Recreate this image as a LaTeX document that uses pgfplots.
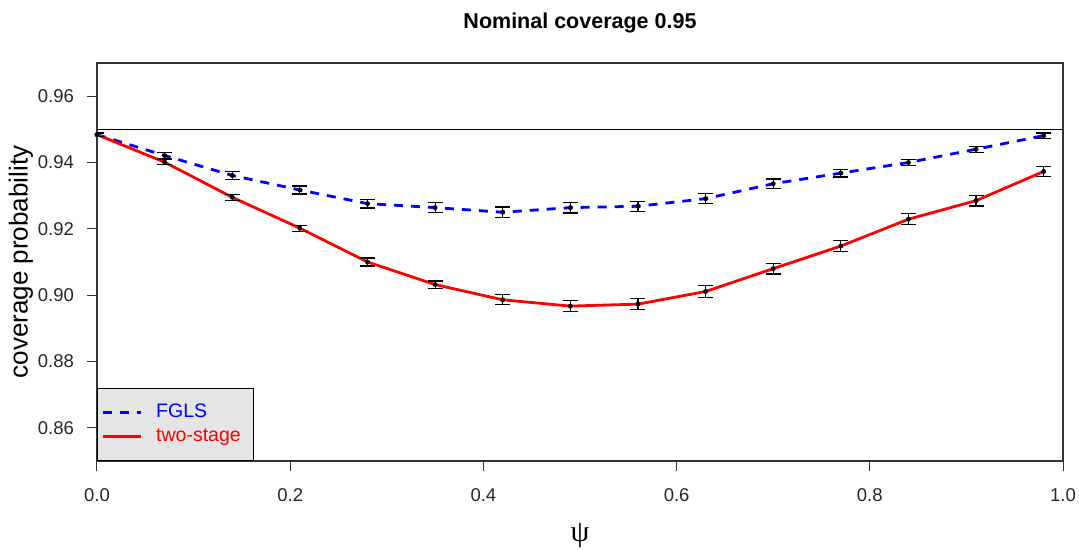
\documentclass[border=0pt]{standalone}
\usepackage{pgfplots}
\pgfplotsset{compat=1.18}
\usepackage{pgfplotstable}
\usepackage{fontspec}
\setmainfont{Liberation Sans}
\newfontfamily\symfont{Liberation Serif}
\definecolor{legendgray}{RGB}{229,229,229}
\definecolor{rblue}{RGB}{0,0,255}
\definecolor{rred}{RGB}{255,0,0}

\pgfplotstableread{
x y e
0.00 0.9484 0.0006
0.07 0.9421 0.0009
0.14 0.9361 0.0013
0.21 0.9317 0.0012
0.28 0.9276 0.0013
0.35 0.9264 0.0015
0.42 0.9250 0.0016
0.49 0.9264 0.0016
0.56 0.9268 0.0015
0.63 0.9291 0.0015
0.70 0.9336 0.0014
0.77 0.9368 0.0012
0.84 0.9400 0.0009
0.91 0.9440 0.0009
0.98 0.9481 0.0008
}\fgls

\pgfplotstableread{
x y e
0.00 0.9484 0.0005
0.07 0.9401 0.0008
0.14 0.9295 0.0009
0.21 0.9202 0.0009
0.28 0.9100 0.0012
0.35 0.9032 0.0011
0.42 0.8986 0.0015
0.49 0.8967 0.0016
0.56 0.8973 0.0016
0.63 0.9011 0.0017
0.70 0.9080 0.0016
0.77 0.9148 0.0017
0.84 0.9229 0.0017
0.91 0.9285 0.0016
0.98 0.9373 0.0016
}\twostage

\begin{document}
\begin{tikzpicture}
\useasboundingbox (-48.5pt,-44.5pt) rectangle (491pt,230.5pt);
\begin{axis}[
  at={(0pt,0pt)}, anchor=south west,
  scale only axis, width=483pt, height=199pt,
  xmin=0, xmax=1, ymin=0.85, ymax=0.97,
  xtick={0,0.2,0.4,0.6,0.8,1.0},
  xticklabels={0.0,0.2,0.4,0.6,0.8,1.0},
  ytick={0.86,0.88,0.90,0.92,0.94,0.96},
  yticklabels={0.86,0.88,0.90,0.92,0.94,0.96},
  xtick pos=left, ytick pos=left,
  tick align=outside, major tick length=5pt,
  tick style={black!80, line width=0.5pt},
  axis line style={black!80, line width=0.6pt},
  ticklabel style={font=\fontsize{9.25}{11}\selectfont, text=black!85},
  yticklabel style={xshift=-3pt},
  xticklabel style={yshift=-5.5pt},
  xlabel={\symfont ψ},
  xlabel style={at={(axis description cs:0.5,0)}, anchor=center, yshift=-37.5pt, font=\fontsize{15}{17}\selectfont},
  ylabel={coverage probability},
  ylabel style={at={(axis description cs:-0.0787,0.5)}, anchor=center, font=\fontsize{13}{15}\selectfont},
  title={Nominal coverage 0.95},
  title style={at={(axis description cs:0.5,1)}, anchor=base, yshift=11pt, font=\fontsize{10.75}{13}\selectfont\bfseries},
  legend style={at={(0,0)}, anchor=south west, draw=black, fill=legendgray,
    font=\fontsize{9.75}{11}\selectfont, inner xsep=2pt, inner ysep=6pt, row sep=0pt, column sep=5pt},
  legend cell align=left,
  legend image code/.code={\draw[#1] (0pt,0pt) -- (19pt,0pt);},
]
\addplot[black, line width=0.5pt, forget plot] coordinates {(0,0.95) (1,0.95)};
\addplot[rblue, line width=1.4pt, dash pattern=on 4.5pt off 4pt] table[x=x,y=y] {\fgls};
\addlegendentry{\textcolor{rblue}{FGLS}}
\addplot[rred, line width=1.4pt] table[x=x,y=y] {\twostage};
\addlegendentry{\textcolor{rred}{two-stage}\hspace*{2.5pt}}
\addplot[black, only marks, mark=*, mark size=1pt, forget plot,
  error bars/.cd, y dir=both, y explicit,
  error bar style={black, line width=0.6pt},
  error mark options={rotate=90, black, mark size=3.75pt, line width=0.6pt}]
  table[x=x, y=y, y error=e] {\fgls};
\addplot[black, only marks, mark=*, mark size=1pt, forget plot,
  error bars/.cd, y dir=both, y explicit,
  error bar style={black, line width=0.6pt},
  error mark options={rotate=90, black, mark size=3.75pt, line width=0.6pt}]
  table[x=x, y=y, y error=e] {\twostage};
\end{axis}
\end{tikzpicture}
\end{document}
